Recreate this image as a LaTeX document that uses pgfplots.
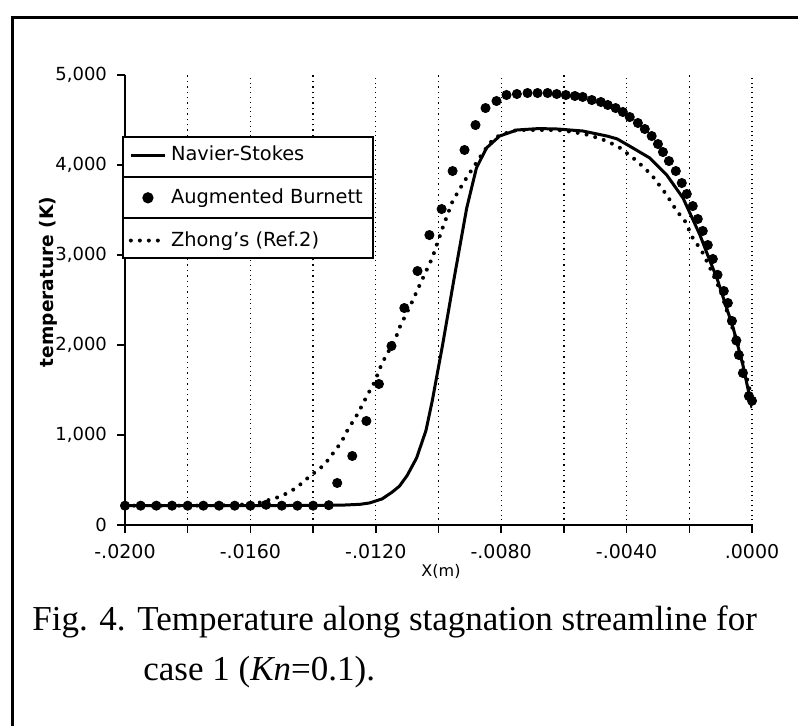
\documentclass[border=0pt]{standalone}
\usepackage{fontspec}
\setmainfont{DejaVu Sans}
\newfontfamily\capfont{Liberation Serif}
\usepackage{pgfplots}
\usepackage{pgfplotstable}
\pgfplotsset{compat=1.18}
\usetikzlibrary{calc}

\pgfplotstableread{
x T
-0.0200 215
-0.0180 215
-0.0160 215
-0.0140 218
-0.0130 222
-0.0125 230
-0.0122 245
-0.0118 290
-0.01150 360
-0.01125 430
-0.0110 550
-0.0107 744
-0.0104 1050
-0.0102 1378
-0.00987 2000
-0.0095 2744
-0.0091 3522
-0.00879 3967
-0.00847 4189
-0.00805 4322
-0.0075 4389
-0.0068 4405
-0.0062 4400
-0.0054 4378
-0.0046 4320
-0.0043 4290
-0.0038 4189
-0.00326 4078
-0.00272 3889
-0.0022 3633
-0.00166 3222
-0.00134 2933
-0.00112 2744
-0.0006 2189
-0.00029 1778
0.0 1300
}\ns

\pgfplotstableread{
x T
-0.0200 215
-0.0195 215
-0.0190 215
-0.0185 215
-0.0180 215
-0.0175 215
-0.0170 215
-0.0165 215
-0.0160 215
-0.0155 225
-0.0150 215
-0.0145 215
-0.0140 215
-0.0135 220
-0.01323 467
-0.01275 767
-0.0123 1156
-0.0119 1567
-0.0115 1989
-0.01109 2411
-0.01067 2822
-0.01029 3222
-0.0099 3511
-0.00955 3933
-0.00917 4167
-0.00882 4444
-0.0085 4633
-0.00815 4711
-0.00783 4778
-0.0075 4789
-0.00716 4800
-0.00684 4800
-0.00652 4800
-0.00623 4789
-0.00594 4778
-0.00565 4767
-0.0054 4756
-0.00511 4722
-0.00482 4700
-0.0046 4667
-0.00435 4633
-0.00412 4589
-0.0039 4533
-0.00364 4467
-0.00342 4400
-0.0032 4322
-0.0030 4233
-0.00284 4144
-0.00265 4044
-0.00243 3933
-0.00224 3800
-0.00208 3678
-0.00189 3544
-0.00173 3400
-0.00157 3267
-0.00141 3111
-0.00125 2956
-0.00110 2780
-0.00090 2600
-0.00077 2467
-0.00064 2267
-0.00050 2050
-0.00042 1889
-0.00029 1689
-0.00010 1433
0.0 1380
}\burnett

\pgfplotstableread{
x T
-0.0200 215
-0.0180 215
-0.0165 220
-0.0158 240
-0.0153 289
-0.0150 322
-0.01454 411
-0.01406 556
-0.0138 620
-0.01355 711
-0.0131 920
-0.0129 1056
-0.01262 1211
-0.01243 1333
-0.01227 1444
-0.01205 1580
-0.0118 1800
-0.01157 1944
-0.01134 2100
-0.01125 2189
-0.01086 2467
-0.0106 2667
-0.0102 2967
-0.00987 3300
-0.00955 3600
-0.00917 3822
-0.0089 3967
-0.00863 4111
-0.00837 4244
-0.00805 4333
-0.0075 4389
-0.0062 4389
-0.0057 4367
-0.0052 4333
-0.00463 4267
-0.0042 4189
-0.00367 4044
-0.0032 3889
-0.00272 3667
-0.0024 3489
-0.00214 3378
-0.00189 3189
-0.0016 3044
-0.00134 2856
-0.0010 2600
-0.0007 2267
-0.00048 2044
-0.00022 1711
0.0 1400
}\zhong

\begin{document}
\begin{tikzpicture}
\useasboundingbox (0,0) rectangle (399pt,-362.5pt);
\draw[line width=1.5pt] (6pt,-364pt) -- (6pt,-8.5pt) -- (401pt,-8.5pt);
\begin{axis}[
  at={(62.5pt,-262.5pt)}, anchor=south west,
  scale only axis, width=313.5pt, height=225pt,
  xmin=-0.02, xmax=0, ymin=0, ymax=5000,
  scaled x ticks=false, scaled y ticks=false,
  axis x line=bottom, axis y line=left,
  axis line style={-, line width=1pt},
  tick align=outside, major tick length=4pt, minor tick length=4pt,
  tick style={black, line width=0.8pt},
  xtick={-0.02,-0.016,-0.012,-0.008,-0.004,0},
  minor xtick={-0.018,-0.014,-0.01,-0.006,-0.002},
  xticklabels={-.0200,-.0160,-.0120,-.0080,-.0040,.0000},
  ytick={0,1000,2000,3000,4000,5000},
  yticklabels={0,{1,000},{2,000},{3,000},{4,000},{5,000}},
  xticklabel style={font=\fontsize{9.5}{11}\selectfont, yshift=-2pt},
  yticklabel style={font=\fontsize{9}{11}\selectfont, xshift=-1.5pt},
  xmajorgrids, xminorgrids,
  grid style={dotted, black, line width=0.7pt},
  minor grid style={dotted, black, line width=0.7pt},
  xlabel={X(m)},
  xlabel style={at={(axis description cs:0.504,-0.104)}, anchor=center, font=\fontsize{8}{9}\selectfont},
  ylabel={temperature (K)},
  ylabel style={at={(axis description cs:-0.122,0.54)}, anchor=center, font=\bfseries\fontsize{9.3}{11}\selectfont},
  legend cell align=left,
  legend style={name=leg, at={(axis description cs:-0.005,0.864)}, anchor=north west,
    draw=black, line width=1pt, fill=white, font=\fontsize{9.7}{11}\selectfont,
    row sep=8.5pt, inner ysep=2.5pt, inner xsep=3pt},
]
\addplot[black, line width=1.5pt] table[x=x,y=T] {\ns};
\addlegendentry{Navier-Stokes}
\addplot[only marks, mark=*, mark size=2.3pt, black] table[x=x,y=T] {\burnett};
\addlegendentry{Augmented Burnett}
\addplot[black, line width=2pt, line cap=round, dash pattern=on 0pt off 4.5pt] table[x=x,y=T] {\zhong};
\addlegendentry{Zhong's (Ref.2)}
\end{axis}
\draw[line width=1pt] ($(leg.north west)!1/3!(leg.south west)$) -- ($(leg.north east)!1/3!(leg.south east)$);
\draw[line width=1pt] ($(leg.north west)!2/3!(leg.south west)$) -- ($(leg.north east)!2/3!(leg.south east)$);
\node[anchor=base west, font=\capfont\fontsize{17.5}{21}\selectfont, inner sep=0] at (16pt,-315pt) {Fig. 4. Temperature along stagnation streamline for};
\node[anchor=base west, font=\capfont\fontsize{17.5}{21}\selectfont, inner sep=0] at (71.5pt,-340pt) {case 1 (\textit{Kn}=0.1).};
\end{tikzpicture}
\end{document}
